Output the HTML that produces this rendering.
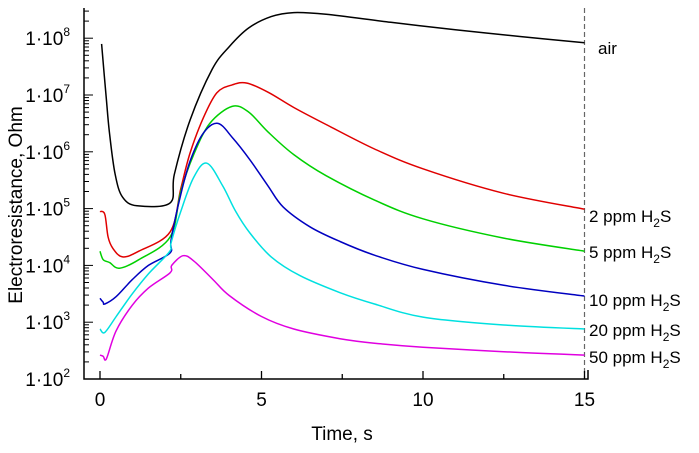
<!DOCTYPE html>
<html><head><meta charset="utf-8"><style>
body{margin:0;background:#fff;width:699px;height:448px;overflow:hidden}
svg{font-family:"Liberation Sans",sans-serif}
</style></head><body>
<svg id="c" width="699" height="448"></svg>
<script>
const series=["air","2 ppm","5 ppm","10 ppm","20 ppm","50 ppm"];
const colors=["#000","#e00000","#00d000","#0000c0","#00e0e0","#e000e0"];
const tAir=[0.05,0.2,0.3,0.47,0.7,1.15,2.17,2.3,2.79,3.47,4,4.6,5.3,6,7,9,11,13,15];
const vAir=[7.9,6.9,6.3,5.6,5.2,5.05,5.1,5.6,6.56,7.45,7.85,8.18,8.38,8.45,8.42,8.28,8.15,8.03,7.92];
const t2=[0,0.15,0.25,0.4,0.7,1.2,2.17,2.5,2.79,3.2,3.62,4.1,4.55,5.2,6,7,8.5,10,12.5,15];
const v2=[4.95,4.9,4.5,4.3,4.15,4.25,4.59,5.35,5.98,6.6,7.04,7.18,7.21,7.05,6.78,6.48,6.05,5.7,5.27,4.99];
const t5=[0,0.1,0.3,0.6,1.2,2.17,2.5,2.9,3.4,4.09,4.6,5.2,6,7,8.5,10,12.5,15];
const v5=[4.25,4.1,4.05,3.95,4.1,4.5,5.3,5.95,6.5,6.8,6.7,6.35,5.95,5.58,5.15,4.82,4.48,4.25];
const t10=[0,0.1,0.15,0.5,1,1.5,2.17,2.2,2.5,2.8,3.2,3.65,4.1,4.64,5.2,5.67,6.5,7.43,8.5,10,12.5,15];
const v10=[3.42,3.35,3.32,3.45,3.75,4.0,4.22,4.45,5.25,5.85,6.33,6.5,6.25,5.86,5.4,5.03,4.68,4.42,4.18,3.93,3.65,3.46];
const t20=[0,0.15,0.5,1,1.5,2.15,2.2,2.5,2.9,3.31,3.8,4.2,4.64,5.3,6.19,7.43,8.5,10,12.5,15];
const v20=[2.88,2.82,3.1,3.5,3.85,4.24,4.4,4.95,5.55,5.8,5.4,4.95,4.57,4.15,3.82,3.52,3.32,3.09,2.95,2.88];
const t50=[0,0.1,0.2,0.5,1,1.5,2.17,2.22,2.57,2.9,3.5,4,5,6,7.43,8.5,10,12.5,15];
const v50=[2.42,2.4,2.36,2.85,3.3,3.6,3.87,4.0,4.17,4.08,3.75,3.47,3.1,2.88,2.71,2.63,2.56,2.48,2.42];
const xTicks=[0,5,10,15];
const yExp=[2,3,4,5,6,7,8];
const labels=["air","2 ppm H","5 ppm H","10 ppm H","20 ppm H","50 ppm H"];
const labelY=[48,216,252,300,330,357];

const svg=document.getElementById('c');const NS='http://www.w3.org/2000/svg';
const X=t=>100+t*32.3, Y=v=>379-(v-2)*56.8;
function mk(tag,a,p){const e=document.createElementNS(NS,tag);for(const k in a)e.setAttribute(k,a[k]);(p||svg).appendChild(e);return e;}
function smooth(pts){let d='M'+pts[0][0].toFixed(1)+','+pts[0][1].toFixed(1);
for(let i=0;i<pts.length-1;i++){const p0=pts[Math.max(0,i-1)],p1=pts[i],p2=pts[i+1],p3=pts[Math.min(pts.length-1,i+2)];
const c1x=p1[0]+(p2[0]-p0[0])/6,c1y=p1[1]+(p2[1]-p0[1])/6,c2x=p2[0]-(p3[0]-p1[0])/6,c2y=p2[1]-(p3[1]-p1[1])/6;
d+=` C${c1x.toFixed(1)},${c1y.toFixed(1)} ${c2x.toFixed(1)},${c2y.toFixed(1)} ${p2[0].toFixed(1)},${p2[1].toFixed(1)}`;}
return d;}
let d=mk('line',{x1:X(15),x2:X(15),y1:8,y2:379,stroke:'#666','stroke-dasharray':'5,3','stroke-width':1.2});


let ax=mk('path',{d:`M84 8 V379 H588 V370`,fill:'none',stroke:'#000','stroke-width':1.5});


for(let t=0;t<=15;t+=2.5){const l=mk('line',{x1:X(t),x2:X(t),y1:379,y2:t%5==0?371:374,stroke:'#000','stroke-width':1.3});

}
xTicks.forEach(t=>{const e=mk('text',{x:X(t),y:406,'font-size':19,'text-anchor':'middle'});e.textContent=t;

});
for(let e=2;e<8.5;e++){for(let m=1;m<=9;m++){const v=e+Math.log10(m);if(v>8.55)break;const yy=Y(v);if(yy<8)break;
const l=mk('line',{x1:84,x2:m==1?93:89,y1:yy,y2:yy,stroke:'#000','stroke-width':1});

}}
yExp.forEach(e=>{const t=mk('text',{x:70,y:Y(e)+7,'font-size':19,'text-anchor':'end'});t.innerHTML='1·10<tspan dy="-9" font-size="12">'+e+'</tspan>';

});
let xt=mk('text',{x:342,y:440,'font-size':19,'text-anchor':'middle'});xt.textContent='Time, s';


let yt=mk('text',{x:0,y:0,'font-size':19,'text-anchor':'middle',transform:'translate(22,205) rotate(-90)'});yt.textContent='Electroresistance, Ohm';


const data=[[tAir,vAir],[t2,v2],[t5,v5],[t10,v10],[t20,v20],[t50,v50]];
data.forEach((s,i)=>{const pts=s[0].map((t,j)=>[X(t),Y(s[1][j])]);
const l=mk('path',{d:smooth(pts),fill:'none',stroke:colors[i],'stroke-width':1.5,'stroke-linejoin':'round'});


const tx=mk('text',{x:i==0?598:589,y:labelY[i]+6,'font-size':17});
tx.innerHTML=i==0?'air':labels[i]+'<tspan dy="5" font-size="12">2</tspan><tspan dy="-5">S</tspan>';

});
</script>
</body></html>
